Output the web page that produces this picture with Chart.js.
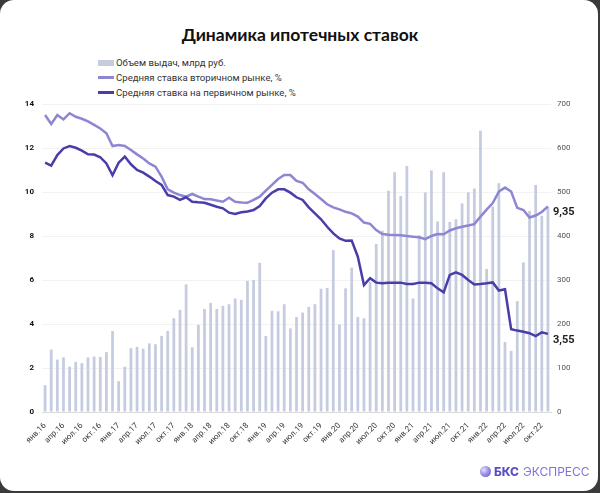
<!DOCTYPE html>
<html lang="ru">
<head>
<meta charset="utf-8">
<title>Динамика ипотечных ставок</title>
<script src="https://cdn.jsdelivr.net/npm/chart.js@4.4.0/dist/chart.umd.min.js"></script>
<style>
  html, body { margin: 0; padding: 0; }
  body { width: 600px; height: 493px; background: #3a3a3a; position: relative; overflow: hidden; font-family: Roboto, 'Liberation Sans', sans-serif; }
  .card { position: absolute; left: 0; top: 0; width: 598px; height: 491px; background: #fff; border-radius: 14px; }
  .title { position: absolute; top: 24px; left: 0; width: 600px; text-align: center; font: bold 17.5px Lato, sans-serif; color: #111; }
  .legend { position: absolute; left: 98px; top: 55px; font-size: 9.6px; color: #333; }
  .legend div { height: 15px; line-height: 15px; display: flex; align-items: center; }
  .legend span.sw { display: inline-block; width: 16px; margin-right: 2px; }
  .logo { position: absolute; left: 480px; top: 464px; display: flex; align-items: center; font: 12px 'Inter', sans-serif; }
  .logo .ball { width: 11px; height: 11px; border-radius: 50%; background: radial-gradient(circle at 35% 35%, #e6e3fb 0%, #9b92e6 45%, #5b4fc9 100%); margin-right: 3px; }
  .logo b { color: #5a4fc8; font-weight: 800; margin-right: 4px; }
  .logo i { font-style: normal; color: #7c73d9; }
  #wrap { position: absolute; left: 0; top: 0; width: 600px; height: 493px; }
</style>
</head>
<body>
<div class="card"></div>
<div class="title">Динамика ипотечных ставок</div>
<div class="legend">
  <div><span class="sw" style="height:6px;background:#c5cce0"></span>Объем выдач, млрд руб.</div>
  <div><span class="sw" style="height:2.5px;background:#8d86d3"></span>Средняя ставка вторичном рынке, %</div>
  <div><span class="sw" style="height:2.5px;background:#483da9"></span>Средняя ставка на первичном рынке, %</div>
</div>
<div id="wrap"><canvas id="chart" width="600" height="493"></canvas></div>
<div class="logo"><span class="ball"></span><b>БКС</b><i>ЭКСПРЕСС</i></div>

<script>
// месяцы янв.16 - ноя.22
const monthNames = ['янв', 'фев', 'мар', 'апр', 'май', 'июн', 'июл', 'авг', 'сен', 'окт', 'ноя', 'дек'];
const years = ['16', '17', '18', '19', '20', '21', '22'];
const monthCount = 83;

// Объем выдач, млрд руб.
const volume = [
  61, 142, 119, 124, 103, 114, 111, 124, 126, 125, 136, 184,
  70, 103, 145, 148, 144, 156, 154, 173, 184, 213, 232, 290,
  147, 198, 234, 248, 234, 241, 245, 258, 255, 298, 300, 339,
  173, 230, 229, 245, 190, 216, 226, 239, 245, 280, 282, 368,
  199, 281, 328, 216, 213, 296, 382, 412, 503, 545, 491, 559,
  258, 402, 499, 549, 433, 545, 432, 438, 474, 499, 508, 639,
  325, 467, 520, 159, 139, 252, 340, 457, 516, 446, 465
];

// Средняя ставка на вторичном рынке, %
const secondaryRate = [
  13.50, 13.09, 13.50, 13.30, 13.58, 13.42, 13.33, 13.21, 13.05, 12.89, 12.67, 12.09,
  12.14, 12.09, 11.91, 11.71, 11.52, 11.30, 11.15, 10.70, 10.12, 9.97, 9.86, 9.79,
  9.91, 9.79, 9.68, 9.67, 9.61, 9.56, 9.74, 9.56, 9.52, 9.51, 9.64, 9.79,
  10.06, 10.32, 10.59, 10.77, 10.77, 10.50, 10.42, 10.12, 9.91, 9.68, 9.44, 9.30,
  9.21, 9.10, 9.03, 8.88, 8.61, 8.55, 8.27, 8.09, 8.06, 8.05, 8.03, 8.00,
  7.97, 7.94, 7.86, 8.00, 8.09, 8.08, 8.25, 8.35, 8.42, 8.48, 8.54, 8.88,
  9.20, 9.50, 10.02, 10.20, 10.02, 9.28, 9.18, 8.84, 8.93, 9.09, 9.35
];

// Средняя ставка на первичном рынке, %
const primaryRate = [
  11.33, 11.20, 11.68, 11.98, 12.09, 12.01, 11.88, 11.71, 11.70, 11.58, 11.30, 10.76,
  11.33, 11.61, 11.26, 11.00, 10.88, 10.70, 10.50, 10.32, 9.86, 9.79, 9.64, 9.76,
  9.56, 9.53, 9.51, 9.42, 9.33, 9.26, 9.06, 9.00, 9.08, 9.11, 9.18, 9.36,
  9.71, 9.97, 10.12, 10.12, 9.97, 9.76, 9.64, 9.30, 9.03, 8.76, 8.42, 8.12,
  7.89, 7.78, 7.79, 7.06, 5.77, 6.08, 5.88, 5.85, 5.88, 5.88, 5.88, 5.82,
  5.82, 5.88, 5.88, 5.85, 5.62, 5.44, 6.23, 6.35, 6.23, 6.00, 5.80, 5.82,
  5.85, 5.89, 5.52, 5.58, 3.76, 3.70, 3.65, 3.58, 3.45, 3.62, 3.55
];

const categories = [];
for (let i = 0; i < monthCount; i++) {
  categories.push(monthNames[i % 12] + '.' + years[Math.floor(i / 12)]);
}

// подписи последних значений справа
const endLabels = {
  id: 'endLabels',
  afterDatasetsDraw(chart) {
    const ctx = chart.ctx;
    ctx.save();
    ctx.font = 'bold 11px Roboto';
    ctx.fillStyle = '#222';
    ctx.textBaseline = 'middle';
    [1, 2].forEach(i => {
      const pts = chart.getDatasetMeta(i).data;
      const last = pts[pts.length - 1];
      const v = chart.data.datasets[i].data[pts.length - 1];
      ctx.fillText(v.toFixed(2).replace('.', ','), last.x + 5, last.y + 6);
    });
    ctx.restore();
  }
};

const ctx = document.getElementById('chart').getContext('2d');
new Chart(ctx, {
  data: {
    labels: categories,
    datasets: [
      {
        type: 'bar',
        label: 'Объем выдач, млрд руб.',
        data: volume,
        backgroundColor: '#c5cce0',
        yAxisID: 'y2',
        barPercentage: 0.45,
        categoryPercentage: 1,
        order: 3
      },
      {
        type: 'line',
        label: 'Средняя ставка вторичном рынке, %',
        data: secondaryRate,
        borderColor: '#8d86d3',
        borderWidth: 2.5,
        pointRadius: 0,
        tension: 0,
        yAxisID: 'y',
        order: 2
      },
      {
        type: 'line',
        label: 'Средняя ставка на первичном рынке, %',
        data: primaryRate,
        borderColor: '#483da9',
        borderWidth: 2.5,
        pointRadius: 0,
        tension: 0,
        yAxisID: 'y',
        order: 1
      }
    ]
  },
  options: {
    responsive: false,
    animation: false,
    layout: { padding: { top: 104, bottom: 0, left: 0, right: 0 } },
    plugins: {
      legend: { display: false },
      tooltip: { enabled: false }
    },
    scales: {
      x: {
        offset: true,
        grid: { display: false },
        border: { display: true, color: '#d9d9d9' },
        ticks: {
          autoSkip: false,
          maxRotation: 45,
          minRotation: 45,
          padding: 1,
          color: '#333',
          font: { size: 8, family: 'Roboto' },
          callback: function (val, index) {
            return index % 3 === 0 ? this.getLabelForValue(val) : '';
          }
        },
        afterFit: (scale) => { scale.height = 81; }
      },
      y: {
        position: 'left',
        min: 0,
        max: 14,
        grid: { color: '#f2f2f2', drawTicks: false },
        border: { display: false },
        ticks: {
          stepSize: 2,
          padding: 8,
          color: '#111',
          font: { size: 8, weight: 'bold', family: 'Roboto' }
        },
        afterFit: (scale) => { scale.width = 42; }
      },
      y2: {
        position: 'right',
        min: 0,
        max: 700,
        grid: { drawOnChartArea: false, drawTicks: false },
        border: { display: false },
        ticks: {
          stepSize: 100,
          padding: 6,
          color: '#555',
          font: { size: 8, family: 'Roboto' }
        },
        afterFit: (scale) => { scale.width = 49; }
      }
    }
  },
  plugins: [endLabels]
});
</script>
</body>
</html>
